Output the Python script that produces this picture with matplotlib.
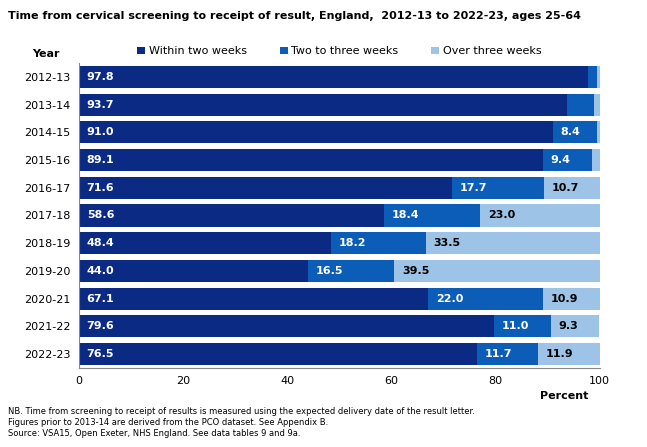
import matplotlib.pyplot as plt
import numpy as np

years = ["2012-13", "2013-14", "2014-15", "2015-16", "2016-17", "2017-18",
         "2018-19", "2019-20", "2020-21", "2021-22", "2022-23"]
within_two = [97.8, 93.7, 91.0, 89.1, 71.6, 58.6, 48.4, 44.0, 67.1, 79.6, 76.5]
two_to_three = [1.7, 5.2, 8.4, 9.4, 17.7, 18.4, 18.2, 16.5, 22.0, 11.0, 11.7]
over_three = [0.5, 1.1, 0.6, 1.5, 10.7, 23.0, 33.5, 39.5, 10.9, 9.3, 11.9]
series = ["Within two weeks", "Two to three weeks", "Over three weeks"]
colors = ["#0A2A84", "#0B5DB8", "#9DC3E6"]

fig = plt.figure(figsize=(6.47, 4.47), dpi=100)
ax = fig.add_axes([0.122, 0.177, 0.805, 0.682])

y = np.arange(len(years))
left = np.zeros(len(years))
for name, vals, col in zip(series, [within_two, two_to_three, over_three], colors):
    vals = np.array(vals)
    ax.barh(y, vals, left=left, height=0.8, color=col, label=name)
    for yi, l, v in zip(y, left, vals):
        if v >= 8:
            ax.text(l + 1.5, yi, f"{v:.1f}", va="center", ha="left", fontsize=8,
                    fontweight="bold", color="black" if col == colors[2] else "white")
    left += vals

ax.set_ylim(len(years) - 0.5, -0.5)
ax.set_xlim(0, 100)
ax.set_yticks(y)
ax.set_yticklabels(years, fontsize=8)
ax.set_xticks([0, 20, 40, 60, 80, 100])
ax.tick_params(axis="x", labelsize=8, length=0, pad=6)
ax.tick_params(axis="y", length=0, pad=6)
for s in ["top", "right"]:
    ax.spines[s].set_visible(False)
ax.spines["left"].set_color("#888888")
ax.spines["bottom"].set_color("#888888")

ax.legend(loc="lower center", bbox_to_anchor=(0.5, 1.0), ncol=3, frameon=False,
          fontsize=8, handlelength=0.7, handleheight=0.7, columnspacing=3.0,
          handletextpad=0.3, borderaxespad=0.2)

fig.text(0.012, 0.975, "Time from cervical screening to receipt of result, England,  2012-13 to 2022-23, ages 25-64",
         fontsize=8, fontweight="bold", va="top")
fig.text(0.05, 0.88, "Year", fontsize=8, fontweight="bold", va="center")
fig.text(0.835, 0.115, "Percent", fontsize=8, fontweight="bold", va="center")
fig.text(0.012, 0.055, "NB. Time from screening to receipt of results is measured using the expected delivery date of the result letter.\n"
         "Figures prior to 2013-14 are derived from the PCO dataset. See Appendix B.\n"
         "Source: VSA15, Open Exeter, NHS England. See data tables 9 and 9a.",
         fontsize=6, va="center", linespacing=1.3)

fig.savefig("out.png", dpi=100)
